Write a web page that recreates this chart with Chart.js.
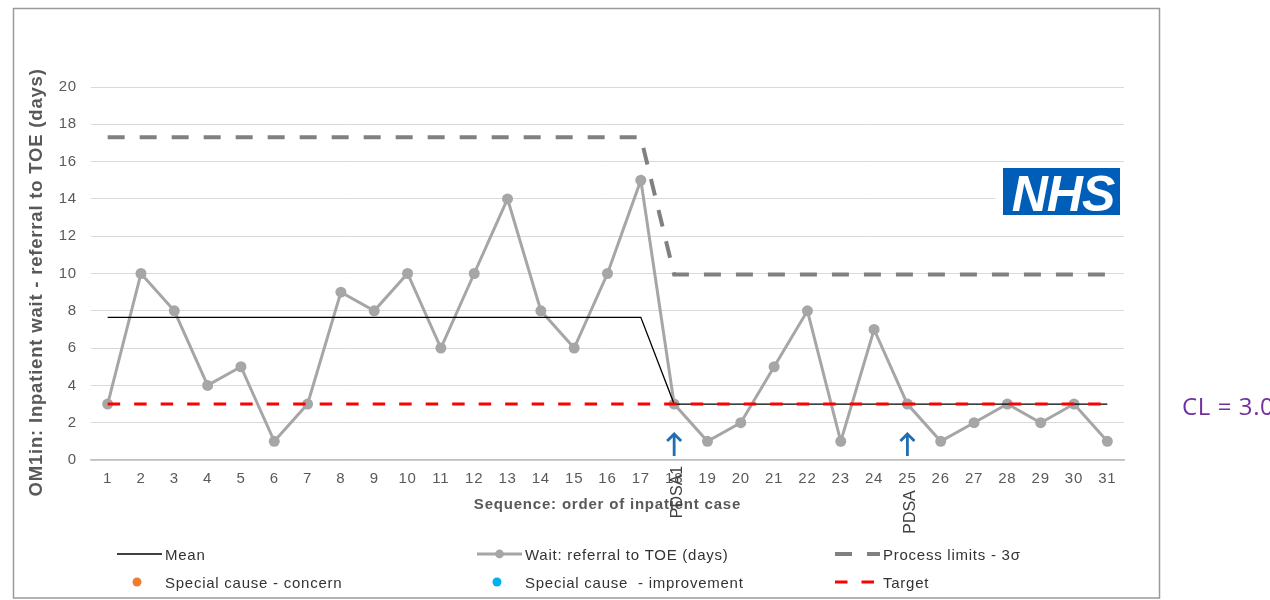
<!DOCTYPE html>
<html>
<head>
<meta charset="utf-8">
<title>OM1in: Inpatient wait - referral to TOE</title>
<script src="https://cdn.jsdelivr.net/npm/chart.js@4.4.1/dist/chart.umd.min.js"></script>
<style>
  html, body { margin: 0; padding: 0; background: #ffffff; }
  #wrap { position: relative; width: 1270px; height: 600px; }
  canvas { display: block; }
</style>
</head>
<body>
<div id="wrap"><canvas id="spc" width="1270" height="600"></canvas></div>
<script>
// ---- Data -------------------------------------------------------------
const caseNumbers = ['1','2','3','4','5','6','7','8','9','10','11','12','13','14','15','16',
                     '17','18','19','20','21','22','23','24','25','26','27','28','29','30','31'];

// Wait from referral to TOE, in days, per inpatient case
const waitDays = [3, 10, 8, 4, 5, 1, 3, 9, 8, 10, 6, 10, 14, 8, 6, 10,
                  15, 3, 1, 2, 5, 8, 1, 7, 3, 1, 2, 3, 2, 3, 1];

// Centre line (mean), recalculated after PDSA cycle 1
const meanLine = [7.65, 7.65, 7.65, 7.65, 7.65, 7.65, 7.65, 7.65, 7.65, 7.65, 7.65, 7.65, 7.65, 7.65, 7.65, 7.65,
                  7.65, 3.0, 3.0, 3.0, 3.0, 3.0, 3.0, 3.0, 3.0, 3.0, 3.0, 3.0, 3.0, 3.0, 3.0];

// Upper process limit (3 sigma)
const processLimit = [17.3, 17.3, 17.3, 17.3, 17.3, 17.3, 17.3, 17.3, 17.3, 17.3, 17.3, 17.3, 17.3, 17.3, 17.3, 17.3,
                      17.3, 9.95, 9.95, 9.95, 9.95, 9.95, 9.95, 9.95, 9.95, 9.95, 9.95, 9.95, 9.95, 9.95, 9.95];

// Target wait
const targetDays = [3, 3, 3, 3, 3, 3, 3, 3, 3, 3, 3, 3, 3, 3, 3, 3,
                    3, 3, 3, 3, 3, 3, 3, 3, 3, 3, 3, 3, 3, 3, 3];

// No special-cause points flagged in this run
const specialCauseConcern = [];
const specialCauseImprovement = [];

const yTickValues = [0, 2, 4, 6, 8, 10, 12, 14, 16, 18, 20];

// PDSA cycles start at these cases (index into caseNumbers)
const pdsaCaseIndex = [17, 24];
const pdsaLabels = ['PDSA1', 'PDSA'];

// ---- Styling / layout -------------------------------------------------
const FONT = '"Liberation Sans", Arial, Helvetica, sans-serif';
const AXIS_GREY = '#595959';
const pdsaLabelDrop = [32, 52];          // label centre below the x axis, px
const legendColumns = [117, 477, 835];
const legendRows = [554, 582];
const legendSampleWidth = 45;
const legendTextGap = 48;

const centreLineValue = meanLine[meanLine.length - 1];

const decorations = {
  id: 'decorations',
  beforeDraw(chart) {
    const ctx = chart.ctx;
    ctx.save();
    ctx.fillStyle = '#ffffff';
    ctx.fillRect(0, 0, chart.width, chart.height);
    ctx.strokeStyle = '#9a9a9a';
    ctx.lineWidth = 1.5;
    ctx.strokeRect(13.5, 8.5, 1146, 589.5);
    ctx.restore();
    // slightly spaced lettering for axis text
    ctx.letterSpacing = '0.8px';
  },
  afterDraw(chart) {
    const ctx = chart.ctx;
    const xs = chart.scales.x;
    const ys = chart.scales.y;
    const area = chart.chartArea;

    // NHS identifier in the upper right of the plot
    ctx.save();
    ctx.letterSpacing = '0px';
    ctx.fillStyle = '#ffffff';
    ctx.fillRect(area.right - 129, 163, 132, 59);
    ctx.fillStyle = '#005eb8';
    ctx.fillRect(area.right - 121, 168, 117, 47);
    ctx.fillStyle = '#ffffff';
    ctx.font = 'italic bold 50px ' + FONT;
    ctx.letterSpacing = '-1px';
    ctx.textAlign = 'center';
    ctx.textBaseline = 'alphabetic';
    ctx.fillText('NHS', area.right - 61, 211);
    ctx.restore();

    // PDSA arrows and rotated labels
    pdsaCaseIndex.forEach((idx, k) => {
      const x = xs.getPixelForValue(idx);
      const tipY = area.bottom - 27;
      const baseY = area.bottom - 4;
      ctx.save();
      ctx.strokeStyle = '#1f6db3';
      ctx.lineWidth = 2.8;
      ctx.lineCap = 'butt';
      ctx.beginPath();
      ctx.moveTo(x, baseY);
      ctx.lineTo(x, tipY + 1);
      ctx.stroke();
      ctx.beginPath();
      ctx.moveTo(x - 7, tipY + 8);
      ctx.lineTo(x, tipY + 1);
      ctx.lineTo(x + 7, tipY + 8);
      ctx.stroke();
      ctx.restore();

      ctx.save();
      ctx.letterSpacing = '0px';
      ctx.translate(x + 3, area.bottom + pdsaLabelDrop[k]);
      ctx.rotate(-Math.PI / 2);
      ctx.fillStyle = '#404040';
      ctx.font = '16px ' + FONT;
      ctx.textAlign = 'center';
      ctx.textBaseline = 'middle';
      ctx.fillText(pdsaLabels[k], 0, 0);
      ctx.restore();
    });

    // Legend: three columns, two rows
    chart.data.datasets.forEach((ds, i) => {
      const x0 = legendColumns[i % 3];
      const y = legendRows[Math.floor(i / 3)];
      ctx.save();
      if (ds.showLine === false) {
        ctx.fillStyle = ds.backgroundColor;
        ctx.beginPath();
        ctx.arc(x0 + 20, y, ds.pointRadius, 0, Math.PI * 2);
        ctx.fill();
      } else {
        ctx.strokeStyle = ds.borderColor;
        ctx.lineWidth = ds.borderWidth;
        ctx.setLineDash(ds.borderDash || []);
        ctx.beginPath();
        ctx.moveTo(x0, y);
        ctx.lineTo(x0 + legendSampleWidth, y);
        ctx.stroke();
        if (ds.pointRadius > 0) {
          ctx.fillStyle = ds.backgroundColor;
          ctx.beginPath();
          ctx.arc(x0 + legendSampleWidth / 2, y, ds.pointRadius * 0.8, 0, Math.PI * 2);
          ctx.fill();
        }
      }
      ctx.fillStyle = '#333333';
      ctx.font = '15px ' + FONT;
      ctx.letterSpacing = '0.75px';
      ctx.textAlign = 'left';
      ctx.textBaseline = 'alphabetic';
      ctx.fillText(ds.label, x0 + legendTextGap, y + 5.5);
      ctx.restore();
    });

    // Centre line value beside the chart
    ctx.save();
    ctx.fillStyle = '#7030a0';
    ctx.font = '24px "Open Sans", "Noto Sans", sans-serif';
    ctx.letterSpacing = '0.6px';
    ctx.textAlign = 'left';
    ctx.textBaseline = 'middle';
    ctx.fillText('CL = ' + centreLineValue.toFixed(1), 1182, ys.getPixelForValue(centreLineValue) + 4);
    ctx.restore();
  }
};

new Chart(document.getElementById('spc'), {
  type: 'line',
  data: {
    labels: caseNumbers,
    datasets: [
      { label: 'Mean', data: meanLine, borderColor: '#000000', backgroundColor: '#000000',
        borderWidth: 1.3, pointRadius: 0, tension: 0, order: 1 },
      { label: 'Wait: referral to TOE (days)', data: waitDays, borderColor: '#a6a6a6',
        backgroundColor: '#a6a6a6', borderWidth: 3, pointRadius: 5.5, pointHoverRadius: 5.5,
        pointBorderWidth: 0, tension: 0, order: 3 },
      { label: 'Process limits - 3\u03c3', data: processLimit, borderColor: '#808080', backgroundColor: '#808080',
        borderWidth: 4, borderDash: [17, 15], pointRadius: 0, tension: 0, order: 2 },
      { label: 'Special cause - concern', data: specialCauseConcern, showLine: false,
        pointRadius: 4.5, backgroundColor: '#ed7d31', borderColor: '#ed7d31', order: 0 },
      { label: 'Special cause  - improvement', data: specialCauseImprovement, showLine: false,
        pointRadius: 4.5, backgroundColor: '#00b0f0', borderColor: '#00b0f0', order: 0 },
      { label: 'Target', data: targetDays, borderColor: '#ff0000', backgroundColor: '#ff0000',
        borderWidth: 3, borderDash: [12.5, 14], pointRadius: 0, tension: 0, order: 0 }
    ]
  },
  options: {
    responsive: false,
    animation: false,
    events: [],
    layout: { padding: { left: 0, top: 87, right: 146, bottom: 80 } },
    plugins: { legend: { display: false }, tooltip: { enabled: false } },
    scales: {
      x: {
        offset: true,
        grid: { display: false, drawTicks: false },
        border: { display: true, color: '#bfbfbf', width: 1.5 },
        ticks: { color: AXIS_GREY, font: { family: FONT, size: 15 }, padding: 10,
                 autoSkip: false, maxRotation: 0 },
        title: { display: true, text: 'Sequence: order of inpatient case', color: AXIS_GREY,
                 font: { family: FONT, size: 15, weight: 'bold' }, padding: { top: 0, bottom: 6 } },
        afterFit(scale) { scale.height = 60; }
      },
      y: {
        min: 0,
        max: 20,
        grid: { color: '#d9d9d9', lineWidth: 1, drawTicks: false },
        border: { display: false },
        afterBuildTicks(scale) { scale.ticks = yTickValues.map(v => ({ value: v })); },
        ticks: { color: AXIS_GREY, font: { family: FONT, size: 15 }, padding: 14 },
        title: { display: true,
                 // trailing no-break spaces sit the title slightly below the axis centre
                 text: 'OM1in: Inpatient wait - referral to TOE (days)\u00a0\u00a0\u00a0',
                 color: AXIS_GREY,
                 font: { family: FONT, size: 18.5, weight: 'bold' }, padding: { top: 26, bottom: 0 } },
        afterFit(scale) { scale.width = 91; }
      }
    }
  },
  plugins: [decorations]
});
</script>
</body>
</html>
